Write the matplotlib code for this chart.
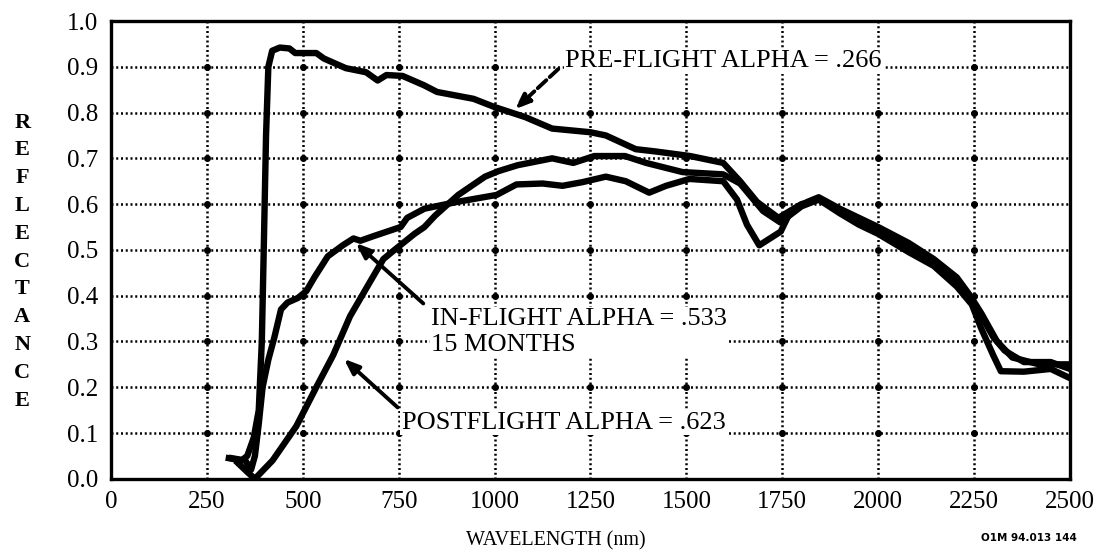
import numpy as np
import matplotlib.pyplot as plt

plt.rcParams['font.family'] = ['Liberation Serif', 'DejaVu Serif']

# pre-flight (alpha = .266)
pre_x = [307, 340, 355, 372, 385, 393, 398, 404, 410, 420, 440, 465, 480, 535, 555,
         612, 665, 695, 718, 760, 815, 850, 945, 1000, 1080, 1150, 1250, 1290, 1368,
         1420, 1510, 1596, 1640, 1684, 1740, 1800, 1845, 1900, 1950, 2000, 2080, 2145,
         2205, 2240, 2268, 2300, 2320, 2380, 2450, 2500]
pre_y = [0.045, 0.04, 0.05, 0.09, 0.15, 0.30, 0.50, 0.75, 0.90, 0.935, 0.942, 0.94,
         0.93, 0.93, 0.918, 0.897, 0.888, 0.87, 0.882, 0.88, 0.86, 0.845, 0.83, 0.812,
         0.79, 0.765, 0.757, 0.75, 0.72, 0.715, 0.705, 0.69, 0.65, 0.605, 0.57, 0.60,
         0.61, 0.585, 0.565, 0.545, 0.505, 0.475, 0.43, 0.39, 0.33, 0.27, 0.235,
         0.234, 0.24, 0.22]

# postflight (alpha = .623)
post_x = [330, 355, 375, 421, 483, 535, 579, 623, 675, 710, 739, 791, 817, 845, 905,
          975, 1010, 1060, 1150, 1205, 1260, 1340, 1395, 1490, 1596, 1640, 1700, 1745,
          1800, 1845, 1900, 1950, 2000, 2080, 2145, 2205, 2240, 2260, 2300, 2330,
          2380, 2450, 2500]
post_y = [0.035, 0.015, 0.0, 0.04, 0.115, 0.20, 0.27, 0.355, 0.43, 0.48, 0.50, 0.535,
          0.55, 0.575, 0.62, 0.66, 0.672, 0.685, 0.70, 0.69, 0.705, 0.705, 0.69, 0.67,
          0.665, 0.645, 0.585, 0.56, 0.595, 0.61, 0.58, 0.555, 0.535, 0.495, 0.465,
          0.42, 0.385, 0.37, 0.31, 0.28, 0.255, 0.255, 0.24]

# in-flight, 15 months (alpha = .533)
inf_x = [315, 350, 365, 375, 385, 395, 410, 426, 443, 460, 487, 509, 530, 565, 604,
         632, 650, 684, 755, 772, 817, 903, 1005, 1057, 1125, 1177, 1229, 1290, 1342,
         1403, 1447, 1508, 1596, 1632, 1658, 1690, 1746, 1772, 1816, 1845, 1900, 1950,
         2000, 2080, 2145, 2205, 2240, 2270, 2310, 2350, 2420, 2500]
inf_y = [0.045, 0.04, 0.02, 0.05, 0.12, 0.20, 0.26, 0.31, 0.37, 0.385, 0.395, 0.41,
         0.44, 0.486, 0.51, 0.525, 0.52, 0.53, 0.55, 0.57, 0.59, 0.605, 0.62, 0.643,
         0.645, 0.64, 0.648, 0.66, 0.65, 0.625, 0.64, 0.655, 0.65, 0.61, 0.555, 0.51,
         0.54, 0.585, 0.605, 0.615, 0.59, 0.57, 0.55, 0.515, 0.48, 0.44, 0.40, 0.36,
         0.30, 0.265, 0.25, 0.25]

xticks = np.arange(0, 2501, 250)
yticks = np.round(np.arange(0, 1.01, 0.1), 1)

fig = plt.figure(figsize=(11.11, 5.6), dpi=100)
ax = fig.add_axes([0.100, 0.145, 0.863, 0.8175])

# dotted grid with dots at the crossings
ax.grid(True, color='k', ls=(0, (0.8, 1.1)), lw=1.8, zorder=1)
gx, gy = np.meshgrid(xticks[1:-1], yticks[1:-1])
ax.plot(gx.ravel(), gy.ravel(), 'o', color='k', ms=4, zorder=1)

for xs, ys in [(pre_x, pre_y), (post_x, post_y), (inf_x, inf_y)]:
    ax.plot(xs, ys, color='k', lw=4.6, solid_joinstyle='round', zorder=3)

ax.set_xlim(0, 2500)
ax.set_ylim(0, 1.0)
ax.set_xticks(xticks)
ax.set_yticks(yticks)
ax.set_yticklabels([f'{v:.1f}' for v in yticks])
ax.tick_params(length=0, labelsize=18)
ax.tick_params(axis='x', pad=9)
ax.tick_params(axis='y', pad=9)
for s in ax.spines.values():
    s.set_linewidth(2.4)

fig.text(0.5, 0.035, 'WAVELENGTH (nm)', fontsize=14.5, ha='center', va='center')
fig.text(0.02, 0.533, '\n'.join('REFLECTANCE'), fontsize=16, fontweight='bold',
         ha='center', va='center', linespacing=1.52)
fig.text(0.926, 0.04, 'O1M 94.013 144', family='DejaVu Sans', fontweight='bold',
         fontsize=7.5, ha='center', va='center')

box = dict(fc='white', ec='none', pad=1)
ax.text(1184, 0.912, 'PRE-FLIGHT ALPHA = .266', fontsize=19, va='center',
        bbox=box, zorder=4)
ax.text(834, 0.32, 'IN-FLIGHT ALPHA = .533\n15 MONTHS', fontsize=19, va='center',
        linespacing=1.25, bbox=box, zorder=4)
ax.text(758, 0.122, 'POSTFLIGHT ALPHA = .623', fontsize=19, va='center',
        bbox=box, zorder=4)

arrow = dict(arrowstyle='-|>,head_length=0.9,head_width=0.35', lw=2.8, color='k',
             shrinkA=0, shrinkB=0)
ax.annotate('', xy=(1053, 0.807), xytext=(1166, 0.895),
            arrowprops=dict(arrow, ls=(0, (3, 1.2))), zorder=5)
ax.annotate('', xy=(638, 0.515), xytext=(814, 0.383), arrowprops=arrow, zorder=5)
ax.annotate('', xy=(607, 0.262), xytext=(747, 0.156), arrowprops=arrow, zorder=5)

plt.savefig('out.png', dpi=100)
